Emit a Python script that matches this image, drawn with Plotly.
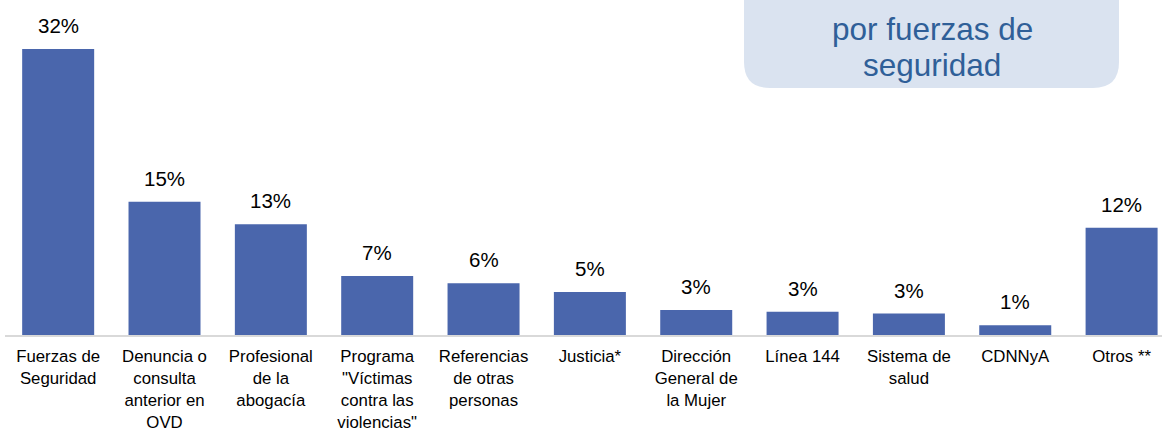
import plotly.graph_objects as go

categories = [
    "Fuerzas de<br>Seguridad",
    "Denuncia o<br>consulta<br>anterior en<br>OVD",
    "Profesional<br>de la<br>abogacía",
    "Programa<br>\"Víctimas<br>contra las<br>violencias\"",
    "Referencias<br>de otras<br>personas",
    "Justicia*",
    "Dirección<br>General de<br>la Mujer",
    "Línea 144",
    "Sistema de<br>salud",
    "CDNNyA",
    "Otros **",
]
values = [32.0, 14.9, 12.4, 6.6, 5.8, 4.8, 2.8, 2.6, 2.4, 1.1, 12.0]
value_labels = ["32%", "15%", "13%", "7%", "6%", "5%", "3%", "3%", "3%", "1%", "12%"]
box_lines = ["por fuerzas de", "seguridad"]

FONT = "Liberation Sans, Arial, sans-serif"
BAR = "#4A66AC"

fig = go.Figure()
fig.add_trace(go.Bar(
    x=list(range(len(categories))),
    y=values,
    marker=dict(color=BAR, line=dict(width=0)),
    hoverinfo="skip",
))

for i, (v, t) in enumerate(zip(values, value_labels)):
    fig.add_annotation(
        x=i, y=v, xref="x", yref="y", text=t, showarrow=False,
        yanchor="bottom", yshift=10,
        font=dict(family=FONT, size=20.5, color="#000000"),
    )

# rounded callout box (top cut off by the figure edge)
W, H = 1157.0, 335.0
x0 = (744 - 5) / W
x1 = (1119 - 5) / W
yb = (335 - 88) / H
yt = 1.3
rx = 26 / W
ry = 26 / H
path = (f"M {x0},{yt} L {x0},{yb + ry} Q {x0},{yb} {x0 + rx},{yb} "
        f"L {x1 - rx},{yb} Q {x1},{yb} {x1},{yb + ry} L {x1},{yt} Z")
fig.add_shape(type="path", xref="paper", yref="paper", path=path,
              fillcolor="#DAE3F0", line=dict(width=0), layer="below")
for line_text, ypix in zip(box_lines, [29, 65]):
    fig.add_annotation(
        x=(932 - 5) / W, y=(335 - ypix) / H, xref="paper", yref="paper",
        text=line_text, showarrow=False, align="center",
        xanchor="center", yanchor="middle",
        font=dict(family=FONT, size=31.5, color="#2F5F98"),
    )

fig.update_layout(
    width=1162, height=430,
    margin=dict(l=5, r=0, t=0, b=95, autoexpand=False),
    paper_bgcolor="white", plot_bgcolor="white",
    bargap=0.323,
    showlegend=False,
    font=dict(family=FONT, color="#000000"),
)
fig.update_xaxes(
    range=[-0.5, 10.38],
    tickmode="array",
    tickvals=list(range(len(categories))),
    ticktext=categories,
    tickfont=dict(family=FONT, size=16.8, color="#000000"),
    showgrid=False, zeroline=False,
    showline=True, linecolor="#D9D9D9", linewidth=2,
    ticks="", ticklabelstandoff=5,
    automargin=False,
    fixedrange=True,
)
fig.update_yaxes(
    range=[0, 37.47], visible=False, showgrid=False, zeroline=False,
    fixedrange=True,
)

fig.write_html(
    "out.html",
    config={"displayModeBar": False},
    post_script="document.body.style.margin='0';document.body.style.overflow='hidden';",
)
